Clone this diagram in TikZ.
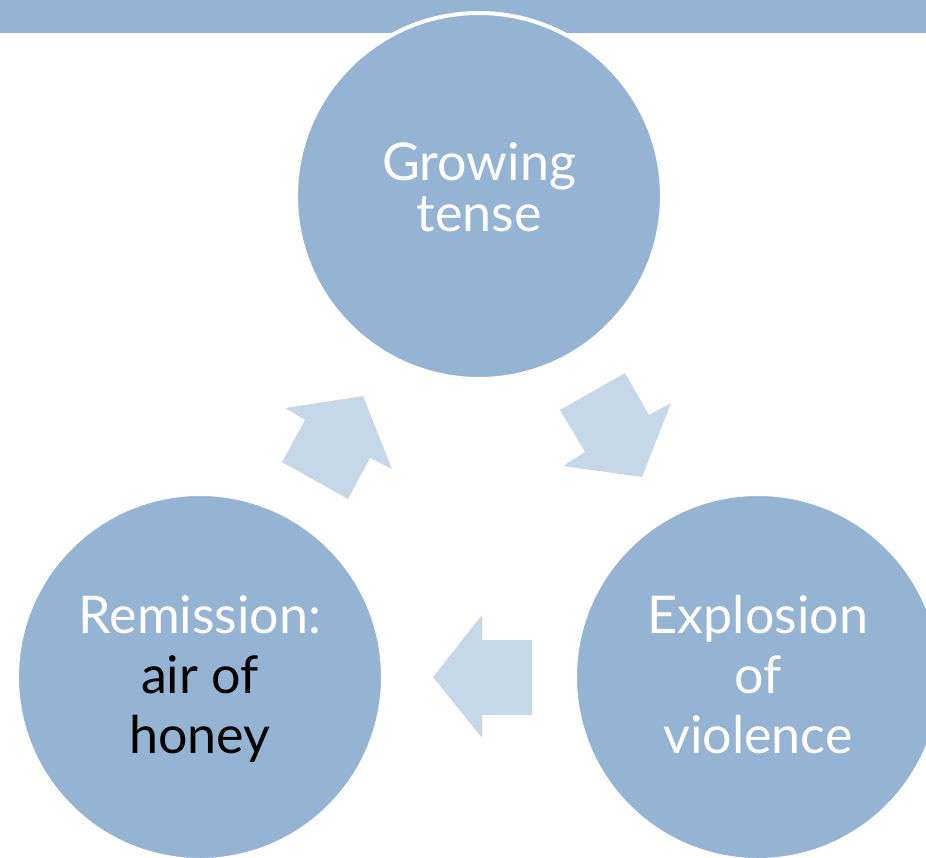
\documentclass[tikz,border=0pt]{standalone}
\usepackage{fontspec}
\setmainfont{Lato}
\definecolor{circ}{HTML}{95B3D3}
\definecolor{arr}{HTML}{C6D7E7}
\begin{document}
\begin{tikzpicture}[x=1pt,y=-1pt,
  stage/.style={circle, fill=circ, draw=white, line width=4pt, minimum size=366pt, inner sep=0pt},
  txt/.style={anchor=base, inner sep=0pt, font=\fontsize{52}{60}\selectfont, text=white},
  blockarrow/.style={fill=arr}]
\useasboundingbox (0,0) rectangle (926,858);
\clip (0,0) rectangle (926,858);
\fill[circ] (0,0) rectangle (926,33);
\node[stage] (grow) at (479,196) {};
\node[stage] (expl) at (758,677) {};
\node[stage] (remi) at (200,677) {};
% arrows
\fill[blockarrow] (282,462) -- (305,420) -- (285,408) -- (363,396) -- (392,469) -- (370,458) -- (348,499) -- cycle;
\fill[blockarrow] (625,373) -- (649,415) -- (671,403) -- (642,477) -- (563,466) -- (585,452) -- (560,410) -- cycle;
\fill[blockarrow] (433,677) -- (482,615) -- (482,640) -- (532,640) -- (532,715) -- (482,715) -- (482,738) -- cycle;
% texts
\node[txt] (g1) at (479,181) {Growing};
\node[txt] (g2) at (479,232) {tense};
\node[txt] (e1) at (758,633) {Explosion};
\node[txt] (e2) at (758,693) {of};
\node[txt] (e3) at (758,753) {violence};
\node[txt] (r1) at (200,633) {Remission:};
\node[txt, text=black] (r2) at (200,693) {air of};
\node[txt, text=black] (r3) at (200,753) {honey};
\end{tikzpicture}
\end{document}
